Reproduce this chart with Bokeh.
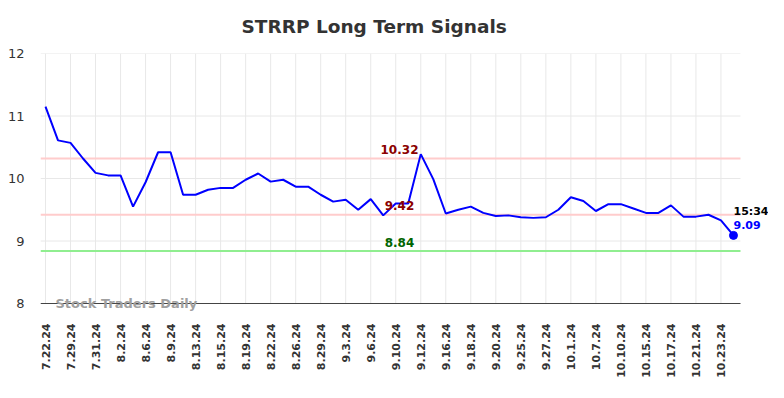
import math
from bokeh.plotting import figure
from bokeh.models import Label, FixedTicker, Range1d, Title
from bokeh.embed import file_html
from bokeh.resources import INLINE

# tick labels shown on the x axis (every other trading day)
tick_labels = ["7.22.24", "7.29.24", "7.31.24", "8.2.24", "8.6.24", "8.9.24", "8.13.24",
               "8.15.24", "8.19.24", "8.22.24", "8.26.24", "8.29.24", "9.3.24", "9.6.24",
               "9.10.24", "9.12.24", "9.16.24", "9.18.24", "9.20.24", "9.25.24", "9.27.24",
               "10.1.24", "10.7.24", "10.10.24", "10.15.24", "10.17.24", "10.21.24", "10.23.24"]

# closing values
values = [11.15, 10.61, 10.57, 10.32, 10.09, 10.05, 10.05, 9.55, 9.94, 10.42,
          10.42, 9.74, 9.74, 9.82, 9.85, 9.85, 9.98, 10.08, 9.95, 9.98,
          9.87, 9.87, 9.74, 9.63, 9.66, 9.50, 9.67, 9.41, 9.60, 9.60,
          10.39, 9.99, 9.44, 9.50, 9.55, 9.45, 9.40, 9.41, 9.38, 9.37,
          9.38, 9.50, 9.70, 9.64, 9.48, 9.59, 9.59, 9.52, 9.45, 9.45,
          9.57, 9.39, 9.39, 9.42, 9.33, 9.09]

resistance_levels = [10.32, 9.42]
support_levels = [8.84]
last_time = "15:34"
y_ticks = [8, 9, 10, 11, 12]

n = len(values)
xs = list(range(n))
x_lo, x_hi = -0.4, n - 1 + 0.56      # extent of the drawn plot area
y_lo, y_hi = y_ticks[0], y_ticks[-1]

p = figure(width=768, height=382, output_backend="svg", toolbar_location=None,
           x_range=Range1d(x_lo, 57.8), y_range=Range1d(7.84, y_hi),
           min_border_left=40, min_border_right=0, min_border_top=53, min_border_bottom=69)
p.outline_line_color = None
p.background_fill_color = "white"
p.border_fill_color = "white"

p.title = Title(text="STRRP Long Term Signals", align="left", offset=201, standoff=30,
                vertical_align="top",
                text_font="DejaVu Sans", text_font_size="18.5px", text_font_style="bold",
                text_color="#333333")

# axes
tick_pos = list(range(0, n, 2))[:len(tick_labels)]
p.xaxis.ticker = FixedTicker(ticks=tick_pos)
p.xaxis.major_label_overrides = {t: l for t, l in zip(tick_pos, tick_labels)}
p.xaxis.major_label_orientation = math.pi / 2
p.xaxis.major_label_text_font = "DejaVu Sans"
p.xaxis.major_label_text_font_size = "11px"
p.xaxis.major_label_text_font_style = "bold"
p.xaxis.major_label_text_color = "#333333"
p.xaxis.major_tick_line_color = None
p.xaxis.minor_tick_line_color = None
p.xaxis.major_label_standoff = 4
p.xaxis.axis_line_color = None

p.yaxis.ticker = FixedTicker(ticks=y_ticks)
p.yaxis.major_label_text_font = "DejaVu Sans"
p.yaxis.major_label_text_font_size = "13px"
p.yaxis.major_label_text_color = "#333333"
p.yaxis.major_tick_line_color = None
p.yaxis.minor_tick_line_color = None
p.yaxis.axis_line_color = None
p.yaxis.major_label_standoff = 10

p.xgrid.grid_line_color = None
p.ygrid.grid_line_color = None

# grid lines limited to the plot area
p.segment(x0=tick_pos, y0=[y_lo] * len(tick_pos), x1=tick_pos, y1=[y_hi] * len(tick_pos),
          line_color="#e8e8e8", line_width=1)
p.segment(x0=[x_lo] * len(y_ticks), y0=y_ticks, x1=[x_hi] * len(y_ticks), y1=y_ticks,
          line_color="#e8e8e8", line_width=1)

# signal levels
for lv in resistance_levels:
    p.segment(x0=[x_lo], y0=[lv], x1=[x_hi], y1=[lv], line_color="#ffcccc", line_width=2)
for lv in support_levels:
    p.segment(x0=[x_lo], y0=[lv], x1=[x_hi], y1=[lv], line_color="#90ee90", line_width=2)

# bottom axis line
p.segment(x0=[x_lo], y0=[y_lo], x1=[x_hi], y1=[y_lo], line_color="#444444", line_width=1)

p.line(xs, values, line_color="#0000ff", line_width=2)
p.scatter([xs[-1]], [values[-1]], size=8, color="#0000ff")

label_x = 28.3
for lv in resistance_levels:
    p.add_layout(Label(x=label_x, y=lv, text=f"{lv:.2f}", text_align="center",
                       text_baseline="alphabetic", y_offset=9, text_font="DejaVu Sans",
                       text_font_size="12px", text_font_style="bold", text_color="#8b0000"))
for lv in support_levels:
    p.add_layout(Label(x=label_x, y=lv, text=f"{lv:.2f}", text_align="center",
                       text_baseline="alphabetic", y_offset=9, text_font="DejaVu Sans",
                       text_font_size="12px", text_font_style="bold", text_color="#006400"))

p.add_layout(Label(x=xs[-1], y=values[-1], text=last_time, text_align="left",
                   text_baseline="alphabetic", y_offset=24, text_font="DejaVu Sans",
                   text_font_size="11px", text_font_style="bold", text_color="#000000"))
p.add_layout(Label(x=xs[-1], y=values[-1], text=f"{values[-1]:.2f}", text_align="left",
                   text_baseline="alphabetic", y_offset=10.5, text_font="DejaVu Sans",
                   text_font_size="11px", text_font_style="bold", text_color="#0000ff"))

p.add_layout(Label(x=0.8, y=y_lo, text="Stock Traders Daily", text_align="left",
                   text_baseline="alphabetic", y_offset=0.5, text_font="DejaVu Sans",
                   text_font_size="13px", text_font_style="bold", text_color="#a0a0a0"))

open("out.html", "w").write(file_html(p, INLINE))
